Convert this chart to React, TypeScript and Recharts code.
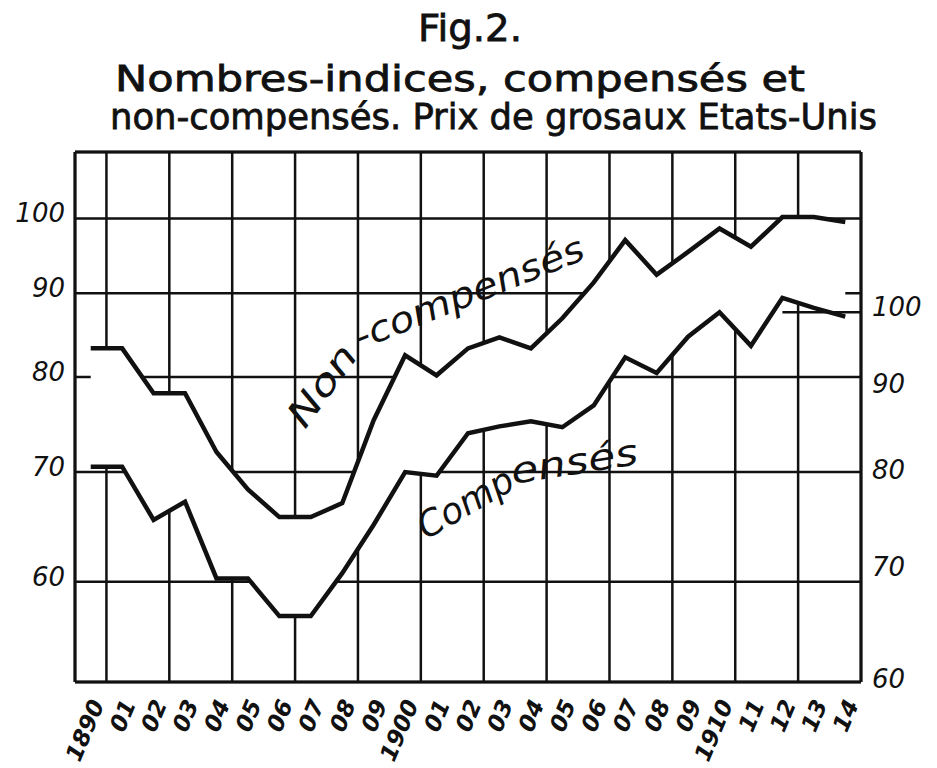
import React from "react";
import {
  ComposedChart,
  Line,
  Area,
  XAxis,
  YAxis,
  CartesianGrid,
  ReferenceLine,
} from "recharts";

// years 1890 - 1914
const years = [
  1890, 1891, 1892, 1893, 1894, 1895, 1896, 1897, 1898, 1899, 1900, 1901, 1902,
  1903, 1904, 1905, 1906, 1907, 1908, 1909, 1910, 1911, 1912, 1913, 1914,
];
const yearLabels = [
  "1890", "01", "02", "03", "04", "05", "06", "07", "08", "09",
  "1900", "01", "02", "03", "04", "05", "06", "07", "08", "09",
  "1910", "11", "12", "13", "14",
];
// left scale
const nonCompenses = [
  83.3, 83.3, 78.2, 78.2, 72.0, 68.3, 65.7, 65.7, 67.0, 75.3, 82.5, 80.2, 83.3,
  84.6, 83.3, 86.9, 91.4, 97.0, 92.4, 95.4, 98.6, 96.1, 100.2, 100.2, 99.5,
];
// right scale
const compenses = [
  80.9, 80.9, 75.2, 77.1, 69.4, 69.4, 65.9, 65.9, 69.9, 74.7, 80.3, 79.9, 84.7,
  85.5, 86.1, 85.4, 88.0, 94.0, 92.0, 96.7, 100.0, 95.5, 102.0, 100.6, 99.4,
];
const leftTicks = [60, 70, 80, 90, 100];
const rightTicks = [60, 70, 80, 90, 100];

const LEFT_DOMAIN = [52.1, 109.8];
const RIGHT_DOMAIN = [60.2, 124.6];
const X_DOMAIN = [1889.5, 1914.5];

// column borders for the vertical grid
const gridYears = years.map((y) => y - 0.5).concat([years[years.length - 1] + 0.5]);

// express a right-scale value on the left scale (both logarithmic)
const toLeft = (v: number) => {
  const f = Math.log(v / RIGHT_DOMAIN[0]) / Math.log(RIGHT_DOMAIN[1] / RIGHT_DOMAIN[0]);
  return LEFT_DOMAIN[0] * Math.pow(LEFT_DOMAIN[1] / LEFT_DOMAIN[0], f);
};

const data = years.map((year, i) => ({
  year,
  non: nonCompenses[i],
  comp: compenses[i],
  band: [toLeft(compenses[i]), nonCompenses[i]],
}));

const INK = "#111";
const FONT = "DejaVu Sans, sans-serif";

const YearTick = (props: any) => {
  const { x, y, payload } = props;
  const i = years.indexOf(payload.value);
  const ax = x + 14;
  const ay = y + 14;
  return (
    <text
      x={ax}
      y={ay}
      transform={`rotate(-67 ${ax} ${ay})`}
      textAnchor="end"
      fontFamily={FONT}
      fontStyle="italic"
      fontWeight="bold"
      fontSize={23}
      fill={INK}
    >
      {yearLabels[i]}
    </text>
  );
};

const LeftTick = (props: any) => {
  const { x, y, payload } = props;
  return (
    <text x={x - 2} y={y + 4} textAnchor="end" fontFamily={FONT} fontStyle="italic" fontSize={26} fill={INK}>
      {payload.value}
    </text>
  );
};

const RightTick = (props: any) => {
  const { x, y, payload } = props;
  return (
    <text x={x + 3} y={y + 4} textAnchor="start" fontFamily={FONT} fontStyle="italic" fontSize={26} fill={INK}>
      {payload.value}
    </text>
  );
};

export default function App() {
  const axisLine = { stroke: INK, strokeWidth: 3 };
  return (
    <div style={{ position: "absolute", left: 0, top: 0, width: 937, height: 768, background: "#fff" }}>
      <ComposedChart
        width={937}
        height={768}
        data={data}
        margin={{ top: 152, right: 16, bottom: 6, left: 15 }}
      >
        <XAxis
          xAxisId="main"
          dataKey="year"
          type="number"
          domain={X_DOMAIN}
          ticks={years}
          interval={0}
          height={80}
          tick={<YearTick />}
          tickLine={false}
          axisLine={axisLine}
        />
        <XAxis xAxisId="grid" dataKey="year" type="number" domain={X_DOMAIN} ticks={gridYears} height={0} hide />
        <YAxis
          yAxisId="left"
          scale="log"
          domain={LEFT_DOMAIN}
          ticks={leftTicks}
          interval={0}
          allowDataOverflow
          width={60}
          tick={<LeftTick />}
          tickLine={false}
          axisLine={axisLine}
        />
        <YAxis
          yAxisId="right"
          orientation="right"
          scale="log"
          domain={RIGHT_DOMAIN}
          ticks={rightTicks}
          interval={0}
          allowDataOverflow
          width={60}
          tick={<RightTick />}
          tickLine={false}
          axisLine={axisLine}
        />
        <CartesianGrid xAxisId="grid" yAxisId="left" stroke={INK} strokeWidth={2.5} />
        <ReferenceLine xAxisId="main" yAxisId="left" y={LEFT_DOMAIN[1]} stroke={INK} strokeWidth={3} />
        <ReferenceLine
          xAxisId="main"
          yAxisId="right"
          segment={[{ x: 1912, y: 100 }, { x: X_DOMAIN[1], y: 100 }]}
          stroke={INK}
          strokeWidth={2.5}
        />
        {/* blank band between the two curves, as in the original drawing */}
        <Area
          xAxisId="main"
          yAxisId="left"
          dataKey="band"
          type="linear"
          fill="#fff"
          fillOpacity={1}
          stroke="none"
          isAnimationActive={false}
        />
        <Line
          xAxisId="main"
          yAxisId="left"
          dataKey="non"
          type="linear"
          stroke={INK}
          strokeWidth={4.5}
          dot={false}
          isAnimationActive={false}
        />
        <Line
          xAxisId="main"
          yAxisId="right"
          dataKey="comp"
          type="linear"
          stroke={INK}
          strokeWidth={4.5}
          dot={false}
          isAnimationActive={false}
        />
      </ComposedChart>
      <svg
        width={937}
        height={768}
        style={{ position: "absolute", left: 0, top: 0, pointerEvents: "none" }}
      >
        <g fontFamily={FONT} fill={INK} stroke={INK} strokeWidth={0.8}>
          <text x={418} y={41} fontSize={38} textLength={104} lengthAdjust="spacingAndGlyphs">
            Fig.2.
          </text>
          <text x={115} y={91} fontSize={36} textLength={690} lengthAdjust="spacingAndGlyphs">
            Nombres-indices, compensés et
          </text>
          <text x={110} y={129} fontSize={36} textLength={767} lengthAdjust="spacingAndGlyphs">
            non-compensés. Prix de grosaux Etats-Unis
          </text>
        </g>
        <g fontFamily={FONT} fontStyle="italic" fontSize={36} fill={INK}>
          <text x={305} y={430} transform="rotate(-54 305 430)" textLength={92} lengthAdjust="spacingAndGlyphs">
            Non
          </text>
          <text x={360} y={350} transform="rotate(-22 360 350)" textLength={245} lengthAdjust="spacingAndGlyphs">
            -compensés
          </text>
          <text x={426} y={540} transform="rotate(-30 426 540)" textLength={105} lengthAdjust="spacingAndGlyphs">
            Comp
          </text>
          <text x={513} y={484} transform="rotate(-9 513 484)" textLength={128} lengthAdjust="spacingAndGlyphs">
            ensés
          </text>
        </g>
      </svg>
    </div>
  );
}
